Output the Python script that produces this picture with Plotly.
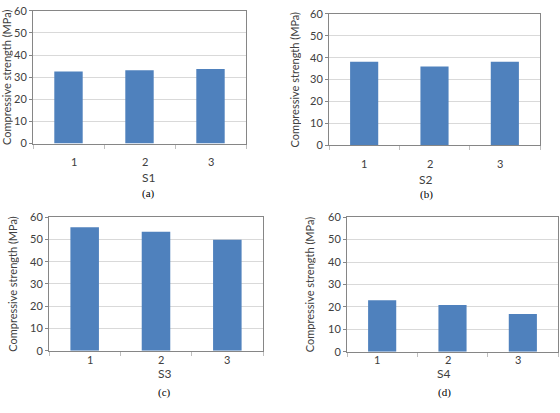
import plotly.graph_objects as go

W, H = 560, 413
categories = ["1", "2", "3"]
s1 = [32.6, 33.1, 33.7]
s2 = [38.2, 36.0, 38.2]
s3 = [55.5, 53.5, 49.9]
s4 = [23.0, 20.8, 16.9]
series_names = ["S1", "S2", "S3", "S4"]
captions = ["(a)", "(b)", "(c)", "(d)"]
y_ticks = [0, 10, 20, 30, 40, 50, 60]
y_title = "Compressive strength (MPa)"

# plot areas in pixels: (x0, x1, ytop, ybottom)
boxes = [(33, 246, 4, 141), (329, 540, 7, 143), (49, 263, 217, 355), (347, 558, 217, 356)]
ytitle_x = [6, 295, 13, 309]
cat_y = [160, 162, 373, 373]
name_y = [176, 178, 388, 388]
cap_y = [193, 194, 407, 407]

fig = go.Figure()
data = [s1, s2, s3, s4]
sans = "Lato, Noto Sans, sans-serif"
for i, vals in enumerate(data):
    x0, x1, yt, yb = boxes[i]
    xa = "x" if i == 0 else f"x{i+1}"
    ya = "y" if i == 0 else f"y{i+1}"
    fig.add_trace(go.Bar(x=categories, y=vals, xaxis=xa, yaxis=ya,
                         marker=dict(color="#4F81BD", line=dict(width=0)),
                         showlegend=False))
    xkey = "xaxis" if i == 0 else f"xaxis{i+1}"
    ykey = "yaxis" if i == 0 else f"yaxis{i+1}"
    fig.update_layout(**{
        xkey: dict(domain=[x0 / W, x1 / W], anchor=ya, showgrid=False,
                   showline=True, linecolor="#868686", linewidth=1, mirror=True,
                   ticks="outside", tickson="boundaries", ticklen=4, tickcolor="#BFBFBF",
                   showticklabels=False, fixedrange=True),
        ykey: dict(domain=[1 - yb / H, 1 - yt / H], anchor=xa, range=[0, 60],
                   tickvals=y_ticks, showgrid=True, gridcolor="#D9D9D9",
                   showline=True, linecolor="#868686", linewidth=1, mirror=True,
                   ticks="outside", ticklen=3, tickcolor="#868686",
                   tickfont=dict(family=sans, size=11, color="#404040"),
                   zeroline=False, fixedrange=True),
    })
    # category labels
    for j, c in enumerate(categories):
        cx = x0 + (x1 - x0) * (j + 0.5) / len(categories)
        fig.add_annotation(x=cx / W, y=1 - cat_y[i] / H, xref="paper", yref="paper",
                           text=c, showarrow=False,
                           font=dict(family=sans, size=11, color="#404040"))
    xc = (x0 + x1) / 2 / W
    fig.add_annotation(x=xc, y=1 - name_y[i] / H, xref="paper", yref="paper",
                       text=series_names[i], showarrow=False,
                       font=dict(family=sans, size=12, color="#404040"))
    fig.add_annotation(x=xc, y=1 - cap_y[i] / H, xref="paper", yref="paper",
                       text=captions[i], showarrow=False,
                       font=dict(family="Liberation Serif, serif", size=11, color="#000000"))
    fig.add_annotation(x=ytitle_x[i] / W, y=1 - (yt + yb) / 2 / H, xref="paper", yref="paper",
                       text=y_title.replace(" ", "\u00a0"), showarrow=False, textangle=-90,
                       width=150, xanchor="center", yanchor="middle",
                       font=dict(family=sans, size=11, color="#404040"))

fig.update_layout(width=W, height=H, margin=dict(l=0, r=0, t=0, b=0),
                  paper_bgcolor="white", plot_bgcolor="white", bargap=0.6)
fig.write_html("out.html")
